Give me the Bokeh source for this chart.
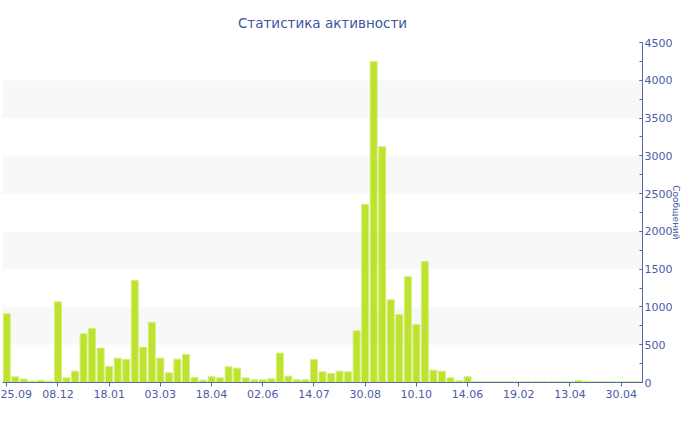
import math
from bokeh.plotting import figure
from bokeh.models import (LinearAxis, FixedTicker, SingleIntervalTicker, BoxAnnotation,
                          Range1d, ColumnDataSource)
from bokeh.embed import file_html
from bokeh.resources import INLINE

# ---- data ----
counts = [
    910, 75, 45, 18, 27, 18, 1068, 62, 150, 645,
    715, 455, 212, 322, 305, 1350, 468, 795, 322, 128,
    309, 371, 66, 31, 75, 62, 208, 190, 62, 35,
    35, 49, 388, 84, 35, 35, 305, 141, 119, 150,
    141, 684, 2357, 4250, 3120, 1095, 900, 1400, 768, 1602,
    163, 150, 62, 22, 75, 12, 12, 12, 12, 12,
    12, 12, 12, 12, 12, 12, 12, 25, 12, 12,
    12, 12, 12, 12, 12,
]
tick_labels = ["25.09", "08.12", "18.01", "03.03", "18.04", "02.06", "14.07",
               "30.08", "10.10", "14.06", "19.02", "13.04", "30.04"]
tick_step = 6
band_starts = [500, 1500, 2500, 3500]
band_height = 500

title_text = "Статистика активности"
y_title = "Сообщений"

FONT = "DejaVu Sans"
TXT = "#4a5ca6"
AXC = "#5568ad"

idx = list(range(len(counts)))
src = ColumnDataSource(dict(x=idx, y=counts))

p = figure(width=684, height=414, output_backend="svg", toolbar_location=None,
           x_range=Range1d(-0.5, len(counts) - 0.5), y_range=Range1d(0, 4500),
           min_border_left=2, min_border_right=42, min_border_top=42, min_border_bottom=32,
           x_axis_location=None, y_axis_location=None)
p.outline_line_color = None
p.xgrid.visible = False
p.ygrid.visible = False
p.background_fill_color = "white"

for b in band_starts:
    p.add_layout(BoxAnnotation(bottom=b, top=b + band_height, fill_color="#f8f8f8",
                               fill_alpha=1, line_color=None, level="underlay"))

p.vbar(x="x", top="y", width=0.82, source=src, fill_color="#bde22f",
       line_color="#d6ee7c", line_width=1)

# x axis
xa = LinearAxis(ticker=FixedTicker(ticks=[i * tick_step for i in range(len(tick_labels))]))
xa.major_label_overrides = {i * tick_step: t for i, t in enumerate(tick_labels)}
xa.axis_line_color = AXC
xa.major_tick_line_color = AXC
xa.major_tick_in = 0
xa.major_tick_out = 4
xa.minor_tick_line_color = None
xa.major_label_text_color = TXT
xa.major_label_text_font = FONT
xa.major_label_text_font_size = "11px"
xa.major_label_standoff = 3
p.add_layout(xa, "below")

# y axis on the right
ya = LinearAxis(ticker=SingleIntervalTicker(interval=500, num_minor_ticks=2))
ya.axis_line_color = AXC
ya.major_tick_line_color = AXC
ya.minor_tick_line_color = AXC
ya.major_tick_in = 3
ya.major_tick_out = 0
ya.minor_tick_in = 3
ya.minor_tick_out = 0
ya.major_label_text_color = TXT
ya.major_label_text_font = FONT
ya.major_label_text_font_size = "11px"
ya.major_label_standoff = 2
ya.axis_label = y_title
ya.axis_label_standoff = -4
ya.axis_label_text_font = FONT
ya.axis_label_text_font_size = "9px"
ya.axis_label_text_font_style = "normal"
ya.axis_label_text_color = TXT
p.add_layout(ya, "right")

p.title.text = title_text
p.title.align = "center"
p.title.text_font = FONT
p.title.text_font_size = "13.5px"
p.title.text_font_style = "normal"
p.title.text_color = "#3e55a0"
p.title.standoff = 23

open("out.html", "w").write(file_html(p, INLINE))
